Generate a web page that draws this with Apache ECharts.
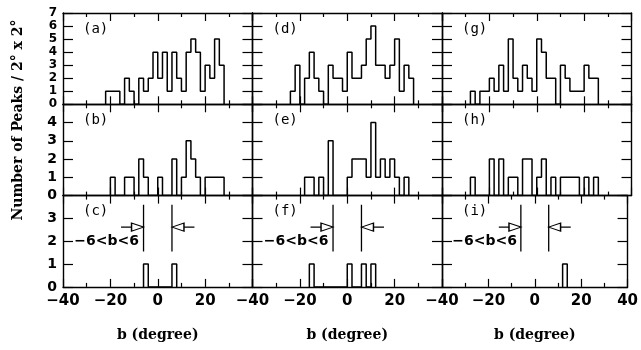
<!DOCTYPE html>
<html>
<head>
<meta charset="utf-8">
<script src="https://cdn.jsdelivr.net/npm/echarts@6/dist/echarts.min.js"></script>
<style>
  html, body { margin: 0; padding: 0; background: #fff; }
  #chart { width: 641px; height: 350px; }
</style>
</head>
<body>
<div id="chart"></div>
<script>
// left edges of the 2-degree bins
const binEdges = [-30, -28, -26, -24, -22, -20, -18, -16, -14, -12, -10, -8, -6, -4, -2,
                  0, 2, 4, 6, 8, 10, 12, 14, 16, 18, 20, 22, 24, 26, 28];
const binWidth = 2;

// peak counts per bin, one array per panel
const countsA = [0,0,0,0,1,1,1,0,2,1,0,2,1,2,4,2,4,1,4,2,1,4,5,4,1,3,2,5,3,0];
const countsB = [0,0,0,0,0,1,0,0,1,1,0,2,1,0,0,1,0,0,2,0,1,3,2,1,0,1,1,1,1,0];
const countsC = [0,0,0,0,0,0,0,0,0,0,0,0,1,0,0,0,0,0,1,0,0,0,0,0,0,0,0,0,0,0];
const countsD = [0,0,0,1,3,0,2,4,2,1,0,3,2,2,1,4,2,2,3,5,6,3,3,2,3,5,1,3,2,0];
const countsE = [0,0,0,0,0,0,1,1,0,1,0,3,0,0,0,1,2,2,2,1,4,1,2,1,2,1,0,1,0,0];
const countsF = [0,0,0,0,0,0,0,1,0,0,0,0,0,0,0,1,0,0,1,0,1,0,0,0,0,0,0,0,0,0];
const countsG = [0,1,0,1,1,2,1,3,1,5,2,1,3,2,1,5,4,2,2,0,3,2,1,1,1,3,2,2,0,0];
const countsH = [0,1,0,0,0,2,0,2,0,1,1,0,2,2,0,1,2,0,1,0,1,1,1,1,0,1,0,1,0,0];
const countsI = [0,0,0,0,0,0,0,0,0,0,0,0,0,0,0,0,0,0,0,0,0,1,0,0,0,0,0,0,0,0];

// panels go down each column: (a)(b)(c), (d)(e)(f), (g)(h)(i)
const panelCounts = [countsA, countsB, countsC, countsD, countsE, countsF, countsG, countsH, countsI];
const panelNames = ['(a)', '(b)', '(c)', '(d)', '(e)', '(f)', '(g)', '(h)', '(i)'];
const rowMax = [7, 5, 4];

// latitude cut drawn in the bottom row
const cutLow = -6;
const cutHigh = 6;
const cutText = '\u22126<b<6';
const cutLineY = [1.55, 3.6];
const arrowY = 2.62;
const arrowTail = 15.5;
const cutTextPos = [-21.6, 2];

const xName = 'b (degree)';
const yName = 'Number of Peaks / 2\u00b0 x 2\u00b0';

// layout (px)
const gridLeft = 63, gridTop = 13, cellW = 189.5, cellH = 91.3;
const pxPerUnit = cellW / 80;
const headLen = 12, headW = 8;

const black = '#000';
const tickFont = 'DejaVu Sans';
const nameFont = 'DejaVu Serif';

function stepData(counts) {
  const first = counts.findIndex(c => c > 0);
  let last = first;
  counts.forEach((c, i) => { if (c > 0) last = i; });
  const pts = [[binEdges[first], 0]];
  for (let i = first; i <= last; i++) pts.push([binEdges[i], counts[i]]);
  pts.push([binEdges[last] + binWidth, 0]);
  return pts;
}

const grids = [], xAxes = [], yAxes = [], series = [], graphics = [];

for (let col = 0; col < 3; col++) {
  for (let row = 0; row < 3; row++) {
    const p = col * 3 + row;
    const left = gridLeft + col * cellW;
    const top = gridTop + row * cellH;
    grids.push({ left: left, top: top, width: cellW, height: cellH });

    [false, true].forEach(isTop => {
      const labelled = !isTop && row === 2;
      xAxes.push({
        type: 'value', gridIndex: p, min: -40, max: 40, interval: 20,
        position: isTop ? 'top' : 'bottom',
        axisLine: { onZero: false, lineStyle: { color: black, width: 1.4 } },
        axisTick: { inside: true, length: 8, lineStyle: { color: black, width: 1.2 } },
        minorTick: { show: true, splitNumber: 2, length: 4, lineStyle: { color: black, width: 1.2 } },
        splitLine: { show: false },
        axisLabel: {
          show: labelled, showMaxLabel: col === 2, margin: 7,
          color: black, fontFamily: tickFont, fontWeight: 'bold', fontSize: 15,
          formatter: v => String(v).replace('-', '\u2212')
        },
        name: labelled ? xName : '',
        nameLocation: 'middle', nameGap: 41,
        nameTextStyle: { color: black, fontFamily: nameFont, fontWeight: 'bold', fontSize: 14 }
      });
    });

    [false, true].forEach(isRight => {
      yAxes.push({
        type: 'value', gridIndex: p, min: 0, max: rowMax[row], interval: 1,
        position: isRight ? 'right' : 'left',
        axisLine: { onZero: false, lineStyle: { color: black, width: 1.4 } },
        axisTick: { inside: true, length: 10, lineStyle: { color: black, width: 1.2 } },
        splitLine: { show: false },
        axisLabel: {
          show: !isRight && col === 0, showMaxLabel: row === 0, margin: 6,
          color: black, fontFamily: tickFont, fontWeight: 'bold',
          fontSize: row === 0 ? 12 : 14
        }
      });
    });

    series.push({
      type: 'line', step: 'end', xAxisIndex: 2 * p, yAxisIndex: 2 * p,
      data: stepData(panelCounts[p]), symbol: 'none',
      lineStyle: { color: black, width: 1.5 }
    });

    graphics.push({
      type: 'text', left: left + 20, top: top + 9,
      style: { text: panelNames[p], fill: black, font: '14px "DejaVu Sans Mono"' }
    });

    if (row === 2) {
      const axisRef = { xAxisIndex: 2 * p, yAxisIndex: 2 * p, symbol: 'none', silent: true,
                        lineStyle: { color: black, width: 1.3 } };
      [cutLow, cutHigh].forEach(x => {
        series.push(Object.assign({ type: 'line', data: [[x, cutLineY[0]], [x, cutLineY[1]]] }, axisRef));
      });
      const headUnits = headLen / pxPerUnit;
      series.push(Object.assign({ type: 'line', data: [[-arrowTail, arrowY], [cutLow - headUnits, arrowY]] }, axisRef));
      series.push(Object.assign({ type: 'line', data: [[arrowTail, arrowY], [cutHigh + headUnits, arrowY]] }, axisRef));
      series.push({
        type: 'scatter', xAxisIndex: 2 * p, yAxisIndex: 2 * p, silent: true,
        symbol: 'triangle', symbolSize: [headW, headLen],
        data: [
          { value: [cutLow - headUnits / 2, arrowY], symbolRotate: -90 },
          { value: [cutHigh + headUnits / 2, arrowY], symbolRotate: 90 }
        ],
        itemStyle: { color: '#fff', borderColor: black, borderWidth: 1.2, opacity: 1 }
      });
      series.push({
        type: 'scatter', xAxisIndex: 2 * p, yAxisIndex: 2 * p, silent: true,
        symbolSize: 0, data: [cutTextPos],
        itemStyle: { opacity: 1 },
        label: {
          show: true, position: 'inside', formatter: cutText,
          color: black, fontFamily: tickFont, fontWeight: 'bold', fontSize: 14
        }
      });
    }
  }
}

graphics.push({
  type: 'text', x: 18, y: 120, rotation: Math.PI / 2,
  style: { text: yName, fill: black, textAlign: 'center', textVerticalAlign: 'middle',
           font: 'bold 14px "DejaVu Serif"' }
});

const chart = echarts.init(document.getElementById('chart'));
chart.setOption({
  animation: false,
  backgroundColor: '#fff',
  grid: grids,
  xAxis: xAxes,
  yAxis: yAxes,
  series: series,
  graphic: graphics
});
</script>
</body>
</html>
